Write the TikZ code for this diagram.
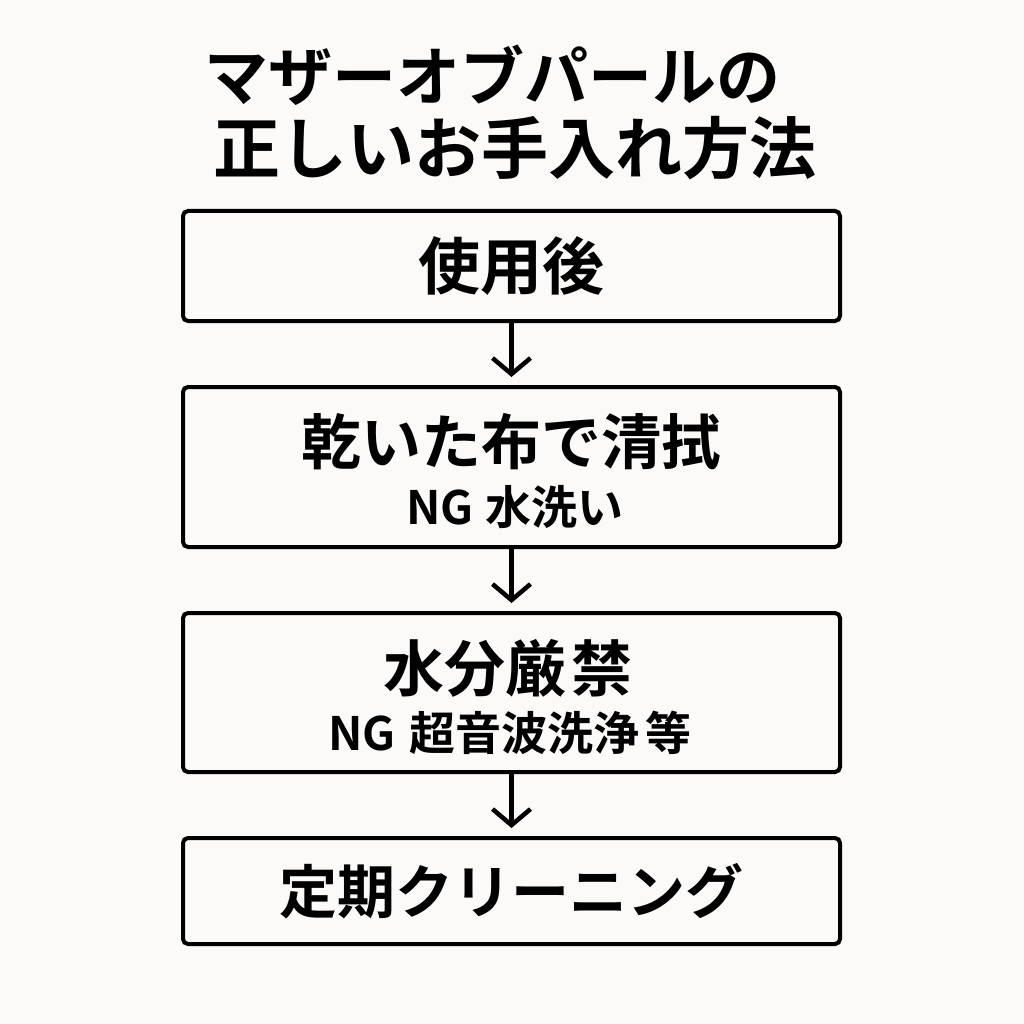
\documentclass[tikz,border=0pt]{standalone}
\usepackage{fontspec}
\newfontfamily\jp{Noto Sans CJK JP Bold}
\usetikzlibrary{arrows.meta}
\begin{document}
\begin{tikzpicture}[x=1pt,y=-1pt,
  box/.style={draw,line width=4pt,rounded corners=5pt,minimum width=657pt,anchor=north},
  arr/.style={line width=4.5pt,-{Straight Barb[length=16pt,width=38pt,line width=4.5pt]}}]
\fill[fill={rgb,255:red,251;green,250;blue,248}] (0,0) rectangle (1024,1024);
\useasboundingbox (0,0) rectangle (1024,1024);
\node[font=\jp\fontsize{64}{80}\selectfont] (t1) at (492,75) {マザーオブパールの};
\node[font=\jp\fontsize{67}{80}\selectfont] (t2) at (515,148) {正しいお手入れ方法};
\node[box,minimum height=110pt] (b1) at (511.5,209) {};
\node[font=\jp\fontsize{62}{60}\selectfont] at (b1.center) {使用後};
\node[box,minimum height=160pt] (b2) at (511.5,385) {};
\node[font=\jp\fontsize{60}{60}\selectfont] at (511,442) {乾いた布で清拭};
\node[font=\jp\fontsize{46}{48}\selectfont] at (515,507) {NG\hspace{12pt}水洗い};
\node[box,minimum height=159pt] (b3) at (511.5,611) {};
\node[font=\jp\fontsize{61}{60}\selectfont] at (508,668) {水分厳\hspace{6pt}禁};
\node[font=\jp\fontsize{46}{48}\selectfont] at (510,733) {NG\hspace{14pt}超音波洗浄\hspace{6pt}等};
\node[box,minimum height=106pt] (b4) at (511.5,836) {};
\node[font=\jp\fontsize{58}{60}\selectfont] at (b4.center) {定期クリーニング};
\draw[arr] (b1.south) -- ++(0,54);
\draw[arr] (b2.south) -- ++(0,54);
\draw[arr] (b3.south) -- ++(0,54);
\end{tikzpicture}
\end{document}
